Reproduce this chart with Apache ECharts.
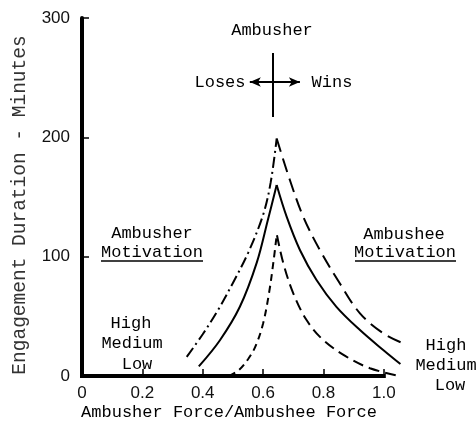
<!DOCTYPE html>
<html><head><meta charset="utf-8">
<script src="https://cdn.jsdelivr.net/npm/echarts@6/dist/echarts.min.js"></script>
<style>html,body{margin:0;padding:0;background:#fff}#c{width:476px;height:422px}</style>
</head><body><div id="c"></div>
<script>
// ---- data ----
const xTicks = [0, 0.2, 0.4, 0.6, 0.8, 1.0];
const xTickLabels = ['0', '0.2', '0.4', '0.6', '0.8', '1.0'];
const yTicks = [0, 100, 200, 300];
const yTickLabels = ['0', '100', '200', '300'];
const xTitle = 'Ambusher Force/Ambushee Force';
const yTitle = 'Engagement Duration - Minutes';

// Ambusher side (left of peak)
const highLeft = [[0.347,16],[0.40,35],[0.45,55],[0.50,78],[0.55,103],[0.60,135],[0.625,162],[0.645,199]];
const mediumLeft = [[0.387,8],[0.457,30],[0.523,58],[0.579,95],[0.616,131],[0.645,160]];
const lowLeft = [[0.487,0],[0.52,5],[0.55,14],[0.575,25],[0.60,44],[0.62,70],[0.635,97],[0.645,118]];
// Ambushee side (right of peak)
const highRight = [[0.645,199],[0.689,164],[0.733,133.5],[0.788,105.6],[0.854,77.7],[0.921,52.5],[0.998,35.8],[1.064,27.4]];
const mediumRight = [[0.645,160],[0.678,133.5],[0.722,105.6],[0.777,80.5],[0.843,58],[0.921,38.5],[0.998,21.8],[1.055,10]];
const lowRight = [[0.646,118],[0.667,94.5],[0.70,69.3],[0.744,46.9],[0.799,30.2],[0.876,16.2],[0.954,6.5],[1.05,0]];

// Loses/Wins cross (data coordinates)
const crossH = [[0.556, 246.4], [0.722, 246.4]];
const crossV = [[0.633, 217], [0.633, 270.7]];
// drawn x-axis extent (0 .. 1.0); the plotting range runs a bit further so the curves can pass 1.0
const xAxisLine = [[0, 0], [1.0, 0]];

// ---- chart ----
const mono = '"Liberation Mono", "DejaVu Sans Mono", monospace';
const chart = echarts.init(document.getElementById('c'), null, {renderer: 'canvas'});

function lineSeries(name, data, type) {
  return {
    name, type: 'line', data, smooth: 0.35, symbol: 'none', clip: false,
    lineStyle: {color: '#000', width: 2, type: type},
    z: 3
  };
}

const series = [
  lineSeries('High (Ambusher)', highLeft, [11, 4, 2, 4]),
  lineSeries('Medium (Ambusher)', mediumLeft, 'solid'),
  lineSeries('Low (Ambusher)', lowLeft, [7, 5]),
  lineSeries('High (Ambushee)', highRight, [14, 7]),
  lineSeries('Medium (Ambushee)', mediumRight, 'solid'),
  lineSeries('Low (Ambushee)', lowRight, [11, 6])
];
series[1].markLine = {
  silent: true, animation: false,
  symbol: ['arrow', 'arrow'], symbolSize: [7, 11],
  label: {show: false},
  lineStyle: {color: '#000', type: 'solid', width: 2},
  data: [
    [{coord: crossH[0]}, {coord: crossH[1]}],
    [{coord: crossV[0], symbol: 'none'}, {coord: crossV[1], symbol: 'none'}]
  ]
};
series[4].markLine = {
  silent: true, animation: false, symbol: 'none', z: 5,
  label: {show: false},
  lineStyle: {color: '#000', type: 'solid', width: 4, cap: 'square'},
  data: [[{coord: xAxisLine[0]}, {coord: xAxisLine[1]}]]
};

function txt(text, x, y, size) {
  return {type: 'text', x, y, z: 10, style: {text, font: (size || 17) + 'px ' + mono, fill: '#000', align: 'center', verticalAlign: 'middle'}};
}

chart.setOption({
  animation: false,
  backgroundColor: '#fff',
  grid: {left: 82, right: 62, top: 18, bottom: 46, containLabel: false, outerBoundsMode: 'none'},
  xAxis: {
    type: 'value', min: 0, max: 1.1, interval: 0.2,
    axisLine: {show: false},
    axisTick: {show: true, inside: true, length: 7, customValues: xTicks, lineStyle: {color: '#000', width: 1.5}},
    axisLabel: {
      margin: 9, color: '#111', fontFamily: '"Liberation Sans", sans-serif', fontSize: 17, customValues: xTicks,
      formatter: v => { const i = xTicks.findIndex(t => Math.abs(t - v) < 1e-6); return i >= 0 ? xTickLabels[i] : ''; }
    },
    splitLine: {show: false}
  },
  yAxis: {
    type: 'value', min: 0, max: 300, interval: 100,
    name: yTitle, nameLocation: 'middle', nameGap: 52, nameRotate: 90,
    nameTextStyle: {fontFamily: mono, fontSize: 19.5, color: '#333', padding: [0, 16, 0, 0]},
    axisLine: {show: true, onZero: false, lineStyle: {color: '#000', width: 4}},
    axisTick: {show: true, inside: true, length: 7, lineStyle: {color: '#000', width: 1.5}},
    axisLabel: {
      margin: 12, color: '#111', fontFamily: '"Liberation Sans", sans-serif', fontSize: 17,
      formatter: v => { const i = yTicks.indexOf(v); return i >= 0 ? yTickLabels[i] : ''; }
    },
    splitLine: {show: false}
  },
  graphic: [
    txt(xTitle, 229, 412),
    txt('Ambusher', 272, 30),
    txt('Loses', 220, 82),
    txt('Wins', 332, 82),
    txt('Ambusher', 152, 233),
    txt('Motivation', 152, 252),
    {type: 'line', z: 10, shape: {x1: 101, y1: 261, x2: 203, y2: 261}, style: {stroke: '#000', lineWidth: 1.5}},
    txt('High', 131, 323),
    txt('Medium', 132, 343),
    txt('Low', 137, 364),
    txt('Ambushee', 404, 234),
    txt('Motivation', 405, 252),
    {type: 'line', z: 10, shape: {x1: 355, y1: 261, x2: 456, y2: 261}, style: {stroke: '#000', lineWidth: 1.5}},
    txt('High', 446, 345),
    txt('Medium', 446, 365),
    txt('Low', 450, 385)
  ],
  series
});
</script>
</body></html>
